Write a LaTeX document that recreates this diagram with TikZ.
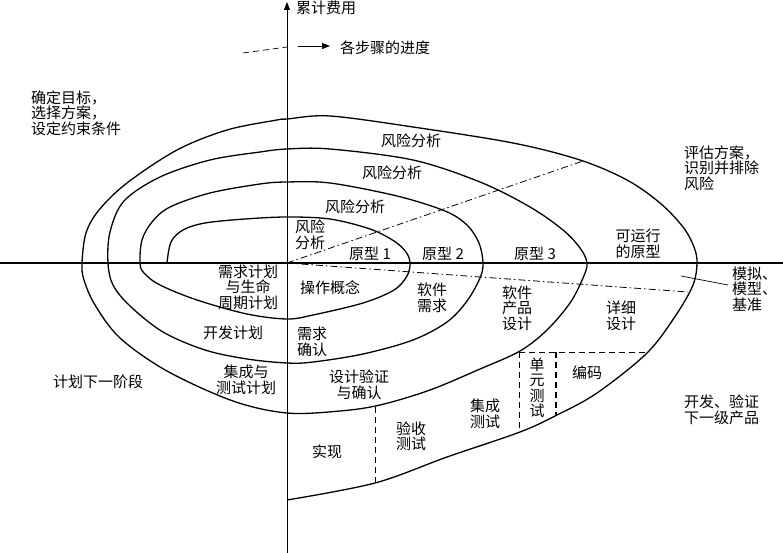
\documentclass[tikz,border=0pt]{standalone}
\usepackage{fontspec}
\setmainfont{Noto Sans CJK SC}
\usetikzlibrary{arrows.meta}
\tikzset{
  txt/.style={align=center, inner sep=0pt, font=\fontsize{15}{15.5}\selectfont},
  ltxt/.style={txt, align=left},
  spiral/.style={line width=1.3pt, line join=round},
  axis/.style={line width=0.8pt},
  haxis/.style={line width=2pt},
  dd/.style={line width=0.8pt, dash pattern=on 7pt off 3pt on 1.5pt off 3pt},
  dsh/.style={line width=0.9pt, dash pattern=on 6pt off 4pt},
  arr/.style={-{Triangle[length=8pt, width=6pt]}},
}

\begin{document}
\begin{tikzpicture}[x=1pt, y=-1pt]
  \useasboundingbox (0,0) rectangle (783,553);
  % axes
  \coordinate (o) at (287,263);
  \coordinate (ybot) at (287,553);
  \coordinate (ytop) at (287,2);
  \coordinate (xl) at (0,263);
  \coordinate (xr) at (783,263);
  \draw[axis, arr] (ybot) -- (ytop);
  \draw[haxis] (xl) -- (xr);
  \node[txt, anchor=west] (cost) at (296,8) {累计费用};

  % progress arrow
  \coordinate (p0) at (243,53);
  \coordinate (p1) at (287,47);
  \coordinate (p2) at (298,46);
  \coordinate (p3) at (330,46);
  \draw[dsh, line width=0.7pt] (p0) -- (p1);
  \draw[line width=0.9pt, arr] (p2) -- (p3);
  \node[txt] (prog) at (385,48) {各步骤的进度};

  % the spiral
  \draw[spiral] plot[smooth, tension=0.55] coordinates {
    (167,263) (171,242) (183,230) (205,223) (245,219) (287,217) (330,219)
    (370,229) (394,241) (406,252) (410,263)
    (407,276) (394,290) (363,303) (313,315) (287,319) (247,314) (197,300)
    (160,285) (144,273) (140,263)
    (142,240) (152,222) (170,207) (210,193) (260,184) (287,182)
    (330,183) (397,196) (445,211) (467,225) (479,243) (483,263)
    (480,278) (467,301) (447,322) (413,340) (363,354) (313,362) (287,363)
    (247,359) (205,350) (163,332) (130,306) (113,285) (108,263)
    (110,232) (124,201) (160,177) (210,160) (260,152) (287,149)
    (330,149) (413,160) (480,182) (530,207) (563,230) (580,248) (587,263)
    (583,278) (570,303) (547,330) (520,351) (480,369) (430,390) (380,405)
    (340,411) (287,413) (233,401) (167,371) (120,338) (95,305) (84,280) (82,263)
    (86,233) (99,210) (127,183) (177,150) (227,130) (277,120) (287,119)
    (330,116) (413,127) (513,143) (580,160) (627,180) (660,203) (683,227)
    (694,247) (697,263)
    (693,285) (676,315) (647,353) (597,393) (557,415) (520,432) (447,457)
    (375,483) (287,500)};

  % dash-dot rays
  \coordinate (ev) at (583,161);
  \coordinate (sm) at (688,292);
  \draw[dd] (o) -- (ev);
  \draw[dd] (o) -- (sm);
  \coordinate (simA) at (681,276);
  \coordinate (simB) at (728,285);
  \draw[line width=0.7pt] (simA) -- (simB);

  % dashed cells
  \coordinate (c1) at (375,407);
  \coordinate (c2) at (375,483);
  \coordinate (u1) at (519,352);
  \coordinate (u2) at (519,432);
  \coordinate (u3) at (556,352);
  \coordinate (u4) at (556,415);
  \coordinate (u5) at (649,352);
  \draw[dsh] (c1) -- (c2);
  \draw[dsh] (u1) -- (u2);
  \draw[dsh, line width=1.4pt] (u3) -- (u4);
  \draw[dsh] (u1) -- (u5);

  % quadrant labels
  \node[ltxt, anchor=west] (goal) at (31,113) {确定目标，\\选择方案，\\设定约束条件};
  \node[ltxt, anchor=west] (eval) at (684,168) {评估方案，\\识别并排除\\风险};
  \node[txt] (next) at (98,382) {计划下一阶段};
  \node[ltxt, anchor=west] (dev) at (684,410) {开发、验证\\下一级产品};

  % risk analysis
  \node[txt] (risk4) at (411,141) {风险分析};
  \node[txt] (risk3) at (392,173) {风险分析};
  \node[txt] (risk2) at (355,207) {风险分析};
  \node[txt] (risk1) at (310,235) {风险\\分析};

  % prototypes
  \node[txt] (proto1) at (370,254) {原型 1};
  \node[txt] (proto2) at (443,254) {原型 2};
  \node[txt] (proto3) at (535,254) {原型 3};
  \node[txt] (proto4) at (638,244) {可运行\\的原型};
  \node[ltxt, anchor=west] (sim) at (732,289) {模拟、\\模型、\\基准};

  % lower half
  \node[txt] (reqplan) at (248,287) {需求计划\\与生命\\周期计划};
  \node[txt] (concept) at (330,288) {操作概念};
  \node[txt] (swreq) at (432,298) {软件\\需求};
  \node[txt] (prodes) at (517,308) {软件\\产品\\设计};
  \node[txt] (detdes) at (621,316) {详细\\设计};
  \node[txt] (devplan) at (233,333) {开发计划};
  \node[txt] (reqval) at (312,342) {需求\\确认};
  \node[txt] (itplan) at (246,380) {集成与\\测试计划};
  \node[txt] (desval) at (359,385) {设计验证\\与确认};
  \node[txt] (impl) at (327,452) {实现};
  \node[txt] (acc) at (411,436) {验收\\测试};
  \node[txt] (integ) at (485,414) {集成\\测试};
  \node[txt] (unit) at (537,388) {单\\元\\测\\试};
  \node[txt] (code) at (587,373) {编码};
\end{tikzpicture}
\end{document}
